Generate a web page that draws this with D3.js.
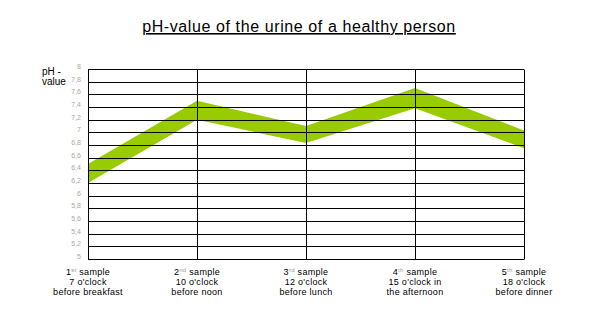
<!DOCTYPE html>
<html>
<head>
<meta charset="utf-8">
<script src="https://cdn.jsdelivr.net/npm/d3@7"></script>
<style>
  html, body { margin: 0; padding: 0; background: #fff; }
  svg { display: block; font-family: "Liberation Sans", Arial, sans-serif; }
</style>
</head>
<body>
<svg id="chart" width="604" height="325"></svg>
<script>
// Sample times through the day
const sampleNumbers = ["1", "2", "3", "4", "5"];
const sampleSuffixes = ["st", "nd", "rd", "th", "th"];
const sampleTimes = ["7 o'clock", "10 o'clock", "12 o'clock", "15 o'clock in", "18 o'clock"];
const sampleMoments = ["before breakfast", "before noon", "before lunch", "the afternoon", "before dinner"];

// Normal pH range of the urine at each sample (lower and upper bound)
const phLow = [6.2, 7.2, 6.83, 7.38, 6.75];
const phHigh = [6.5, 7.5, 7.1, 7.7, 7.03];

// Y axis ticks
const yTicks = [5, 5.2, 5.4, 5.6, 5.8, 6, 6.2, 6.4, 6.6, 6.8, 7, 7.2, 7.4, 7.6, 7.8, 8];

const svg = d3.select("#chart");

const x = d3.scalePoint().domain(d3.range(sampleNumbers.length)).range([88, 524]);
const y = d3.scaleLinear().domain([5, 8]).range([259, 69]);

// Title
svg.append("text")
  .attr("x", 299).attr("y", 32)
  .attr("text-anchor", "middle")
  .attr("font-size", 16)
  .attr("letter-spacing", 0.6)
  .attr("fill", "#000")
  .style("text-decoration", "underline")
  .text("pH-value of the urine of a healthy person");

// Band between lower and upper pH values
const band = d3.area()
  .x((d, i) => x(i))
  .y0((d, i) => y(phLow[i]))
  .y1((d, i) => y(phHigh[i]));

svg.append("path")
  .datum(phLow)
  .attr("d", band)
  .attr("fill", "#99cc00");

// Horizontal grid lines
const grid = svg.append("g");
grid.selectAll("line.h")
  .data(yTicks)
  .join("line")
  .attr("class", "h")
  .attr("x1", x(0)).attr("x2", x(sampleNumbers.length - 1))
  .attr("y1", d => Math.round(y(d)) + 0.5)
  .attr("y2", d => Math.round(y(d)) + 0.5)
  .attr("stroke", "#000").attr("stroke-width", 1);

// Vertical lines at each sample
grid.selectAll("line.v")
  .data(d3.range(sampleNumbers.length))
  .join("line")
  .attr("class", "v")
  .attr("x1", d => Math.round(x(d)) + 0.5)
  .attr("x2", d => Math.round(x(d)) + 0.5)
  .attr("y1", Math.round(y(8)) + 0.5)
  .attr("y2", Math.round(y(5)) + 0.5)
  .attr("stroke", "#000").attr("stroke-width", 1);

// Y tick labels with decimal comma
const fmt = v => (Number.isInteger(v) ? String(v) : v.toFixed(1).replace(".", ","));
svg.append("g").selectAll("text")
  .data(yTicks)
  .join("text")
  .attr("x", 81)
  .attr("y", d => Math.round(y(d)) - 0.5)
  .attr("text-anchor", "end")
  .attr("font-size", 7)
  .attr("fill", "#a8a8a8")
  .text(fmt);

// Y axis title
const yTitle = svg.append("text")
  .attr("x", 42).attr("font-size", 10).attr("fill", "#000");
yTitle.append("tspan").attr("x", 42).attr("y", 75).text("pH -");
yTitle.append("tspan").attr("x", 42).attr("y", 85).text("value");

// Category labels
const cat = svg.append("g").selectAll("g")
  .data(d3.range(sampleNumbers.length))
  .join("g")
  .attr("transform", d => `translate(${x(d)},0)`);

const labelStyle = sel => sel
  .attr("text-anchor", "middle")
  .attr("font-size", 9)
  .attr("letter-spacing", 0.3)
  .attr("fill", "#000");

const first = cat.append("text").attr("y", 275).call(labelStyle);
first.append("tspan").text(d => sampleNumbers[d]);
first.append("tspan")
  .attr("font-size", 6).attr("dy", -3).attr("fill", "#999")
  .text(d => sampleSuffixes[d]);
first.append("tspan").attr("dy", 3).text(" sample");

cat.append("text").attr("y", 285).call(labelStyle)
  .text(d => sampleTimes[d]);

cat.append("text").attr("y", 295).call(labelStyle)
  .text(d => sampleMoments[d]);
</script>
</body>
</html>
